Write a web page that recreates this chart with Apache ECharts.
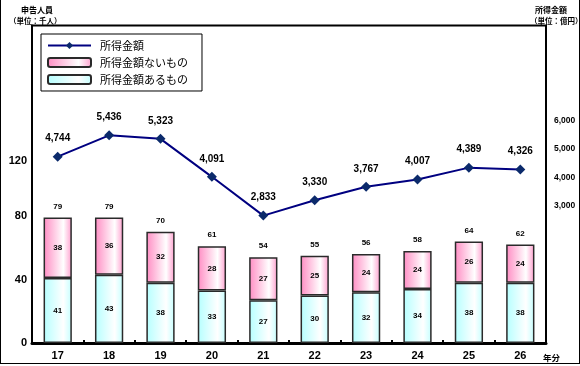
<!DOCTYPE html>
<html><head><meta charset="utf-8">
<script src="https://cdn.jsdelivr.net/npm/echarts@6/dist/echarts.min.js"></script>
<style>html,body{margin:0;padding:0;background:#fff}#c{width:580px;height:366px}</style>
</head><body><div id="c"></div>
<script>
var years = ['17','18','19','20','21','22','23','24','25','26'];
var withIncome = [41,43,38,33,27,30,32,34,38,38];
var withoutIncome = [38,36,32,28,27,25,24,24,26,24];
var totals = [79,79,70,61,54,55,56,58,64,62];
var incomeAmount = [4744,5436,5323,4091,2833,3330,3767,4007,4389,4326];
var leftTicks = [0,40,80,120];
var rightTicks = [3000,4000,5000,6000];

var NUM = "'Liberation Sans', Arial, 'Noto Sans CJK JP', sans-serif";
var JP = "'Noto Sans CJK JP', sans-serif";
function comma(v){ return String(Math.round(v)).replace(/\B(?=(\d{3})+(?!\d))/g, ','); }

var pinkGrad = new echarts.graphic.LinearGradient(0,0,1,0,[
  {offset:0,color:'#ff8cc3'},{offset:0.7,color:'#ffffff'},{offset:1,color:'#ff9fce'}]);
var cyanGrad = new echarts.graphic.LinearGradient(0,0,1,0,[
  {offset:0,color:'#b5ffff'},{offset:0.7,color:'#ffffff'},{offset:1,color:'#c4ffff'}]);

var chart = echarts.init(document.getElementById('c'), null, {renderer:'canvas'});
chart.setOption({
  animation:false,
  backgroundColor:'#fff',
  title:[
    {text:'申告人員', left:16, top:1, textStyle:{fontFamily:JP, fontSize:8, fontWeight:'bold', color:'#000'}},
    {text:'（単位：千人）', left:4, top:12, textStyle:{fontFamily:JP, fontSize:7.5, fontWeight:'bold', color:'#000'}},
    {text:'所得金額', left:530, top:1, textStyle:{fontFamily:JP, fontSize:8, fontWeight:'bold', color:'#000'}},
    {text:'（単位：億円）', left:525, top:12, textStyle:{fontFamily:JP, fontSize:7.5, fontWeight:'bold', color:'#000'}},
    {text:'年分', left:538, top:349, textStyle:{fontFamily:JP, fontSize:8.5, fontWeight:'bold', color:'#000'}}
  ],
  legend:{
    orient:'vertical', left:41, top:34,
    data:['所得金額','所得金額ないもの','所得金額あるもの'],
    backgroundColor:'#fff', borderColor:'#000', borderWidth:1,
    padding:[6,14,6,6], itemGap:6, itemWidth:43, itemHeight:9,
    textStyle:{fontFamily:JP, fontSize:11, color:'#000', padding:[0,0,0,4]}
  },
  grid:{left:32, right:34, top:25.5, bottom:23, show:true, borderColor:'#000', borderWidth:2, backgroundColor:'transparent'},
  xAxis:{
    type:'category', data:years,
    axisLine:{lineStyle:{color:'#000', width:3}},
    axisTick:{show:true, inside:true, length:3, lineStyle:{color:'#000', width:2}},
    axisLabel:{fontFamily:NUM, fontSize:11, fontWeight:'bold', color:'#000', margin:7}
  },
  yAxis:[
    {type:'value', min:0, max:200, interval:40, splitLine:{show:false},
     axisLine:{show:true, lineStyle:{color:'#000', width:2}}, axisTick:{show:false},
     axisLabel:{fontFamily:NUM, fontSize:11, fontWeight:'bold', color:'#000', margin:5,
       formatter:function(v){ if(leftTicks.indexOf(v)<0) return ''; return v===120 ? '{s|120}' : String(v); },
       rich:{s:{fontFamily:NUM, fontSize:11, fontWeight:'bold', color:'#000', padding:[17,0,0,0]}}}},
    {type:'value', min:-1300, max:9000, interval:100, splitLine:{show:false},
     axisLine:{show:false}, axisTick:{show:false},
     axisLabel:{fontFamily:NUM, fontSize:8.5, fontWeight:'bold', color:'#000', margin:8,
       formatter:function(v){ var r=Math.round(v); if(rightTicks.indexOf(r)<0) return '';
         var key = r===6000?'a':(r===5000?'b':(r===4000?'c':'d')); return '{'+key+'|'+comma(r)+'}'; },
       rich:{
         a:{fontFamily:NUM, fontSize:8.5, fontWeight:'bold', color:'#000', padding:[5,0,0,0]},
         b:{fontFamily:NUM, fontSize:8.5, fontWeight:'bold', color:'#000'},
         c:{fontFamily:NUM, fontSize:8.5, fontWeight:'bold', color:'#000', padding:[0,0,3,0]},
         d:{fontFamily:NUM, fontSize:8.5, fontWeight:'bold', color:'#000', padding:[0,0,10,0]}
       }}}
  ],
  series:[
    {name:'所得金額あるもの', type:'bar', stack:'a', data:withIncome, barWidth:'55%',
     itemStyle:{color:cyanGrad, borderColor:'#2a2a2a', borderWidth:1.5},
     label:{show:true, position:'inside', fontFamily:NUM, fontSize:8, fontWeight:'bold', color:'#000'}},
    {name:'所得金額ないもの', type:'bar', stack:'a', data:withoutIncome, barWidth:'55%',
     itemStyle:{color:pinkGrad, borderColor:'#2a2a2a', borderWidth:1.5},
     label:{show:true, position:'inside', fontFamily:NUM, fontSize:8, fontWeight:'bold', color:'#000'}},
    {name:'total', type:'bar', stack:'a', data:years.map(function(){return 0;}), barWidth:'55%',
     itemStyle:{color:'transparent'}, silent:true,
     label:{show:true, position:'top', distance:7, fontFamily:NUM, fontSize:8, fontWeight:'bold', color:'#000',
       formatter:function(p){ return String(totals[p.dataIndex]); }}},
    {name:'所得金額', type:'line', yAxisIndex:1, data:incomeAmount,
     symbol:'diamond', symbolSize:10,
     lineStyle:{color:'#000080', width:2}, itemStyle:{color:'#0b2a6b'},
     label:{show:true, position:'top', distance:8, fontFamily:NUM, fontSize:10, fontWeight:'bold', color:'#000',
       formatter:function(p){ return comma(p.value); }}}
  ],
  graphic:[
    {type:'line', shape:{x1:0.5,y1:0,x2:0.5,y2:363}, style:{stroke:'#000', lineWidth:1}},
    {type:'line', shape:{x1:0,y1:363.5,x2:580,y2:363.5}, style:{stroke:'#000', lineWidth:1}},
    {type:'line', shape:{x1:579.5,y1:0,x2:579.5,y2:364}, style:{stroke:'#000', lineWidth:1}}
  ]
});
</script></body></html>
